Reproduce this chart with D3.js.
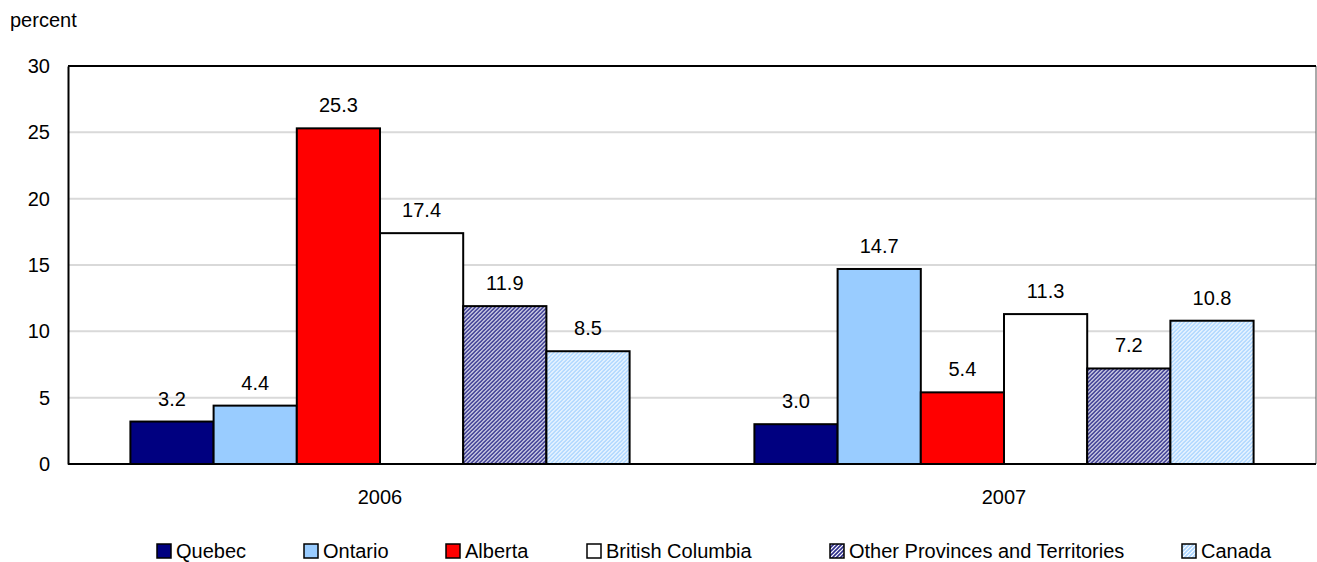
<!DOCTYPE html>
<html>
<head>
<meta charset="utf-8">
<script src="https://cdn.jsdelivr.net/npm/d3@7"></script>
<style>
  body { margin: 0; background: #fff; }
  svg text { font-family: "Liberation Sans", Arial, sans-serif; fill: #000; }
</style>
</head>
<body>
<svg id="chart" width="1317" height="562"></svg>
<script>
// chart data
var years = ["2006", "2007"];
var regions = ["Quebec", "Ontario", "Alberta", "British Columbia", "Other Provinces and Territories", "Canada"];
var values2006 = [3.2, 4.4, 25.3, 17.4, 11.9, 8.5];
var values2007 = [3.0, 14.7, 5.4, 11.3, 7.2, 10.8];
var yTicks = [0, 5, 10, 15, 20, 25, 30];

var fills = ["#000080", "#99ccff", "#ff0000", "#ffffff", "url(#hatchNavy)", "url(#hatchSky)"];
var fontSize = 20;

var svg = d3.select("#chart");
var plotLeft = 68, plotRight = 1316, plotTop = 66, plotBottom = 464;

    // stripe patterns for the last two series
var defs = svg.append("defs");
function addHatch(id, color) {
    var p = defs.append("pattern")
        .attr("id", id)
        .attr("patternUnits", "userSpaceOnUse")
        .attr("width", 4).attr("height", 4);
    p.append("rect").attr("width", 4).attr("height", 4).attr("fill", "#fff");
    p.append("path")
        .attr("d", "M-1,1 l2,-2 M0,4 l4,-4 M3,5 l2,-2")
        .attr("stroke", color)
        .attr("stroke-width", 1.6);
}
addHatch("hatchNavy", "#2e2e8c");
addHatch("hatchSky", "#a8d4ff");

var x0 = d3.scaleBand().domain(years).range([plotLeft, plotRight]).paddingOuter(0.1).paddingInner(0.2);
var x1 = d3.scaleBand().domain(regions).range([0, x0.bandwidth()]);
var y = d3.scaleLinear().domain([0, 30]).range([plotBottom, plotTop]);

    // gridlines
svg.append("g").selectAll("line")
    .data(yTicks.filter(function(d) { return d > 0 && d < 30; }))
    .enter().append("line")
    .attr("x1", plotLeft).attr("x2", plotRight)
    .attr("y1", function(d) { return y(d); })
    .attr("y2", function(d) { return y(d); })
    .attr("stroke", "#d9d9d9").attr("stroke-width", 2);

    // frame
svg.append("line").attr("x1", plotRight).attr("x2", plotRight).attr("y1", plotTop).attr("y2", plotBottom)
    .attr("stroke", "#555").attr("stroke-width", 1);
svg.append("line").attr("x1", plotLeft).attr("x2", plotRight).attr("y1", plotTop).attr("y2", plotTop)
    .attr("stroke", "#000").attr("stroke-width", 2);

    // bars
var rows = [values2006, values2007];
years.forEach(function(yr, i) {
    var g = svg.append("g").attr("transform", "translate(" + x0(yr) + ",0)");
    var data = regions.map(function(r, j) { return { region: r, value: rows[i][j], fill: fills[j] }; });
    g.selectAll("rect").data(data).enter().append("rect")
        .attr("x", function(d) { return x1(d.region); })
        .attr("y", function(d) { return y(d.value); })
        .attr("width", x1.bandwidth())
        .attr("height", function(d) { return plotBottom - y(d.value); })
        .attr("fill", function(d) { return d.fill; })
        .attr("stroke", "#000").attr("stroke-width", 2);
    g.selectAll("text").data(data).enter().append("text")
        .attr("x", function(d) { return x1(d.region) + x1.bandwidth() / 2; })
        .attr("y", function(d) { return y(d.value) - 16; })
        .attr("text-anchor", "middle")
        .attr("font-size", fontSize)
        .text(function(d) { return d.value.toFixed(1); });
});

    // axes
var yAxis = svg.append("g").attr("transform", "translate(" + plotLeft + ",0)")
    .call(d3.axisLeft(y).tickValues(yTicks).tickSize(0).tickPadding(18));
yAxis.select(".domain").attr("stroke", "#000").attr("stroke-width", 2);
yAxis.selectAll("text").attr("font-size", fontSize).attr("font-family", "Liberation Sans, Arial, sans-serif");

var xAxis = svg.append("g").attr("transform", "translate(0," + plotBottom + ")")
    .call(d3.axisBottom(x0).tickSize(0).tickPadding(26));
xAxis.select(".domain").attr("d", "M" + plotLeft + ",0H" + plotRight).attr("stroke", "#000").attr("stroke-width", 2);
xAxis.selectAll("text").attr("font-size", fontSize).attr("font-family", "Liberation Sans, Arial, sans-serif");

svg.append("text").attr("x", 10).attr("y", 27).attr("font-size", fontSize).text("percent");

    // legend
var legendX = [157, 304, 446, 587, 830, 1182];
var legend = svg.append("g").selectAll("g").data(regions).enter().append("g")
    .attr("transform", function(d, i) { return "translate(" + legendX[i] + ",544)"; });
legend.append("rect")
    .attr("width", 14).attr("height", 14)
    .attr("fill", function(d, i) { return fills[i]; })
    .attr("stroke", "#000").attr("stroke-width", 1.5);
legend.append("text")
    .attr("x", 19).attr("y", 14)
    .attr("font-size", fontSize)
    .text(function(d) { return d; });
</script>
</body>
</html>
